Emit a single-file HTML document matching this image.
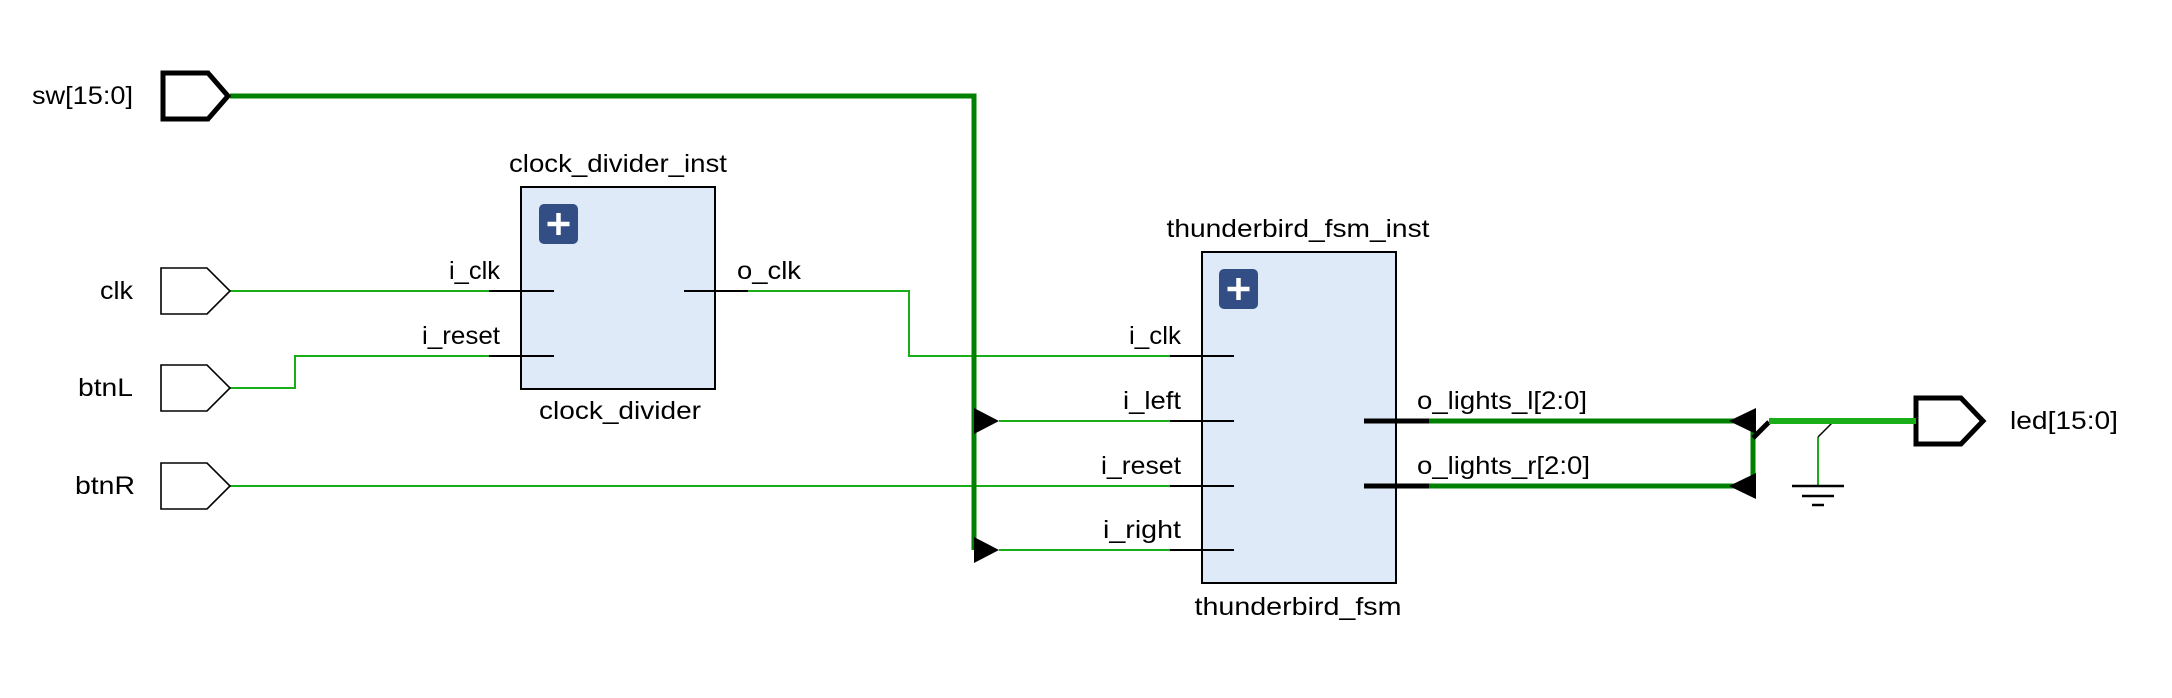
<!DOCTYPE html>
<html><head><meta charset="utf-8"><style>
html,body{margin:0;padding:0;background:#fff;}
svg{display:block;}
text{font-family:"Liberation Sans",sans-serif;font-size:25px;fill:#000;dominant-baseline:central;}
</style></head><body>
<svg width="2172" height="698" viewBox="0 0 2172 698" xmlns="http://www.w3.org/2000/svg">
<rect width="2172" height="698" fill="#fff"/>
<g stroke="#1aad1a" stroke-width="2" fill="none">
<polyline points="230,291 489,291"/>
<polyline points="230,388 295,388 295,356 489,356"/>
<polyline points="748,291 909,291 909,356 1170,356"/>
<polyline points="230,486 1170,486"/>
<polyline points="999,421 1170,421"/>
<polyline points="999,550 1170,550"/>
<polyline points="1818,437 1818,486"/>
</g>
<line x1="1818" y1="437" x2="1832" y2="423" stroke="#000" stroke-width="1.5"/>
<polyline points="230,96 974,96 974,550" stroke="#008000" stroke-width="5" fill="none"/>
<polygon points="974,408 999,421 974,434" fill="#000"/>
<polygon points="974,537 999,550 974,563" fill="#000"/>
<g stroke="#000" stroke-width="1.6" fill="#fff">
<polygon points="161,268 207,268 230,291 207,314 161,314"/>
<polygon points="161,365 207,365 230,388 207,411 161,411"/>
<polygon points="161,463 207,463 230,486 207,509 161,509"/>
</g>
<g stroke="#000" stroke-width="5" fill="#fff">
<polygon points="163,73 208,73 228,96 208,119 163,119"/>
<polygon points="1916,398 1961,398 1983,421 1961,444 1916,444"/>
</g>
<g lengthAdjust="spacingAndGlyphs">
<text x="133" y="96" text-anchor="end" textLength="101" lengthAdjust="spacingAndGlyphs">sw[15:0]</text>
<text x="133" y="291" text-anchor="end" textLength="33" lengthAdjust="spacingAndGlyphs">clk</text>
<text x="133" y="388" text-anchor="end" textLength="55" lengthAdjust="spacingAndGlyphs">btnL</text>
<text x="135" y="486" text-anchor="end" textLength="60" lengthAdjust="spacingAndGlyphs">btnR</text>
</g>
<rect x="521" y="187" width="194" height="202" fill="#dfeaf8" stroke="#000" stroke-width="2"/>
<rect x="539" y="204" width="39" height="40" rx="5" fill="#334e85"/>
<path d="M558.5 213v22M547.5 224h22" stroke="#fff" stroke-width="4.5"/>
<g stroke="#000" stroke-width="2"><line x1="489" y1="291" x2="554" y2="291"/><line x1="489" y1="356" x2="554" y2="356"/><line x1="684" y1="291" x2="748" y2="291"/></g>
<text x="618" y="164" text-anchor="middle" textLength="218" lengthAdjust="spacingAndGlyphs">clock_divider_inst</text>
<text x="620" y="411" text-anchor="middle" textLength="162" lengthAdjust="spacingAndGlyphs">clock_divider</text>
<text x="500" y="271" text-anchor="end" textLength="51" lengthAdjust="spacingAndGlyphs">i_clk</text>
<text x="500" y="336" text-anchor="end" textLength="78" lengthAdjust="spacingAndGlyphs">i_reset</text>
<text x="737" y="271" textLength="64" lengthAdjust="spacingAndGlyphs">o_clk</text>
<rect x="1202" y="252" width="194" height="331" fill="#dfeaf8" stroke="#000" stroke-width="2"/>
<rect x="1219" y="269" width="39" height="40" rx="5" fill="#334e85"/>
<path d="M1238.5 278v22M1227.5 289h22" stroke="#fff" stroke-width="4.5"/>
<g stroke="#000" stroke-width="2"><line x1="1170" y1="356" x2="1234" y2="356"/><line x1="1170" y1="421" x2="1234" y2="421"/><line x1="1170" y1="486" x2="1234" y2="486"/><line x1="1170" y1="550" x2="1234" y2="550"/></g>
<g stroke="#000" stroke-width="5"><line x1="1364" y1="421" x2="1429" y2="421"/><line x1="1364" y1="486" x2="1429" y2="486"/></g>
<text x="1298" y="229" text-anchor="middle" textLength="263" lengthAdjust="spacingAndGlyphs">thunderbird_fsm_inst</text>
<text x="1298" y="607" text-anchor="middle" textLength="207" lengthAdjust="spacingAndGlyphs">thunderbird_fsm</text>
<text x="1181" y="336" text-anchor="end" textLength="52" lengthAdjust="spacingAndGlyphs">i_clk</text>
<text x="1181" y="401" text-anchor="end" textLength="58" lengthAdjust="spacingAndGlyphs">i_left</text>
<text x="1181" y="466" text-anchor="end" textLength="80" lengthAdjust="spacingAndGlyphs">i_reset</text>
<text x="1181" y="530" text-anchor="end" textLength="78" lengthAdjust="spacingAndGlyphs">i_right</text>
<text x="1417" y="401" textLength="170" lengthAdjust="spacingAndGlyphs">o_lights_l[2:0]</text>
<text x="1417" y="466" textLength="173" lengthAdjust="spacingAndGlyphs">o_lights_r[2:0]</text>
<g stroke="#008000" stroke-width="5" fill="none">
<line x1="1429" y1="421" x2="1740" y2="421"/>
<line x1="1429" y1="486" x2="1740" y2="486"/>
<line x1="1753" y1="431" x2="1753" y2="476"/>
</g>
<polygon points="1729,421 1756,408 1756,434" fill="#000"/>
<polygon points="1729,486 1756,473 1756,499" fill="#000"/>
<line x1="1753" y1="438" x2="1769" y2="422" stroke="#000" stroke-width="5"/>
<line x1="1769" y1="421" x2="1916" y2="421" stroke="#1aad1a" stroke-width="6"/>
<g stroke="#000" stroke-width="2.5"><line x1="1792" y1="486" x2="1844" y2="486"/><line x1="1802" y1="496" x2="1834" y2="496"/><line x1="1812" y1="505" x2="1824" y2="505"/></g>
<text x="2010" y="421" textLength="108" lengthAdjust="spacingAndGlyphs">led[15:0]</text>
</svg>
</body></html>
